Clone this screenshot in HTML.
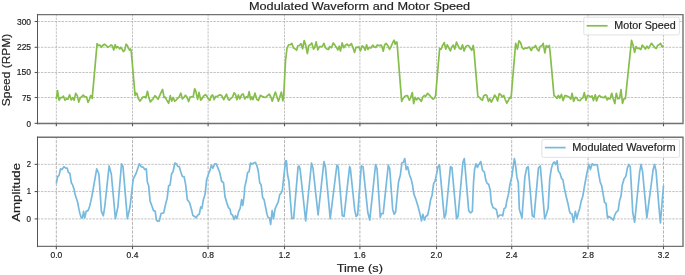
<!DOCTYPE html>
<html><head><meta charset="utf-8"><style>html,body{margin:0;padding:0;background:#fff;overflow:hidden}svg{display:block;will-change:transform}</style></head>
<body><svg width="685" height="275" viewBox="0 0 685 275"><rect width="685" height="275" fill="#fff"/><line x1="56.33" y1="123.5" x2="56.33" y2="14.65" stroke="#b4b4b4" stroke-width="0.8" stroke-dasharray="2.4,1.05"/><line x1="132.50" y1="123.5" x2="132.50" y2="14.65" stroke="#b4b4b4" stroke-width="0.8" stroke-dasharray="2.4,1.05"/><line x1="208.10" y1="123.5" x2="208.10" y2="14.65" stroke="#b4b4b4" stroke-width="0.8" stroke-dasharray="2.4,1.05"/><line x1="284.50" y1="123.5" x2="284.50" y2="14.65" stroke="#b4b4b4" stroke-width="0.8" stroke-dasharray="2.4,1.05"/><line x1="359.90" y1="123.5" x2="359.90" y2="14.65" stroke="#b4b4b4" stroke-width="0.8" stroke-dasharray="2.4,1.05"/><line x1="436.50" y1="123.5" x2="436.50" y2="14.65" stroke="#b4b4b4" stroke-width="0.8" stroke-dasharray="2.4,1.05"/><line x1="511.70" y1="123.5" x2="511.70" y2="14.65" stroke="#b4b4b4" stroke-width="0.8" stroke-dasharray="2.4,1.05"/><line x1="588.10" y1="123.5" x2="588.10" y2="14.65" stroke="#b4b4b4" stroke-width="0.8" stroke-dasharray="2.4,1.05"/><line x1="663.50" y1="123.5" x2="663.50" y2="14.65" stroke="#b4b4b4" stroke-width="0.8" stroke-dasharray="2.4,1.05"/><line x1="56.33" y1="246.4" x2="56.33" y2="137.3" stroke="#b4b4b4" stroke-width="1.0" stroke-dasharray="3.0,1.3"/><line x1="132.50" y1="246.4" x2="132.50" y2="137.3" stroke="#b4b4b4" stroke-width="1.0" stroke-dasharray="3.0,1.3"/><line x1="208.10" y1="246.4" x2="208.10" y2="137.3" stroke="#b4b4b4" stroke-width="1.0" stroke-dasharray="3.0,1.3"/><line x1="284.50" y1="246.4" x2="284.50" y2="137.3" stroke="#b4b4b4" stroke-width="1.0" stroke-dasharray="3.0,1.3"/><line x1="359.90" y1="246.4" x2="359.90" y2="137.3" stroke="#b4b4b4" stroke-width="1.0" stroke-dasharray="3.0,1.3"/><line x1="436.50" y1="246.4" x2="436.50" y2="137.3" stroke="#b4b4b4" stroke-width="1.0" stroke-dasharray="3.0,1.3"/><line x1="511.70" y1="246.4" x2="511.70" y2="137.3" stroke="#b4b4b4" stroke-width="1.0" stroke-dasharray="3.0,1.3"/><line x1="588.10" y1="246.4" x2="588.10" y2="137.3" stroke="#b4b4b4" stroke-width="1.0" stroke-dasharray="3.0,1.3"/><line x1="663.50" y1="246.4" x2="663.50" y2="137.3" stroke="#b4b4b4" stroke-width="1.0" stroke-dasharray="3.0,1.3"/><line x1="37.45" y1="123.35" x2="683.0" y2="123.35" stroke="#b4b4b4" stroke-width="0.8" stroke-dasharray="2.4,1.05"/><line x1="37.45" y1="97.50" x2="683.0" y2="97.50" stroke="#b4b4b4" stroke-width="0.8" stroke-dasharray="2.4,1.05"/><line x1="37.45" y1="72.50" x2="683.0" y2="72.50" stroke="#b4b4b4" stroke-width="0.8" stroke-dasharray="2.4,1.05"/><line x1="37.45" y1="47.30" x2="683.0" y2="47.30" stroke="#b4b4b4" stroke-width="0.8" stroke-dasharray="2.4,1.05"/><line x1="37.45" y1="21.50" x2="683.0" y2="21.50" stroke="#b4b4b4" stroke-width="0.8" stroke-dasharray="2.4,1.05"/><line x1="37.45" y1="218.90" x2="683.0" y2="218.90" stroke="#b4b4b4" stroke-width="0.8" stroke-dasharray="2.4,1.05"/><line x1="37.45" y1="191.55" x2="683.0" y2="191.55" stroke="#b4b4b4" stroke-width="0.8" stroke-dasharray="2.4,1.05"/><line x1="37.45" y1="164.35" x2="683.0" y2="164.35" stroke="#b4b4b4" stroke-width="0.8" stroke-dasharray="2.4,1.05"/><path d="M56.33,99.10 L57.50,90.70 L59.10,100.20 L60.60,97.70 L62.00,97.70 L63.50,96.20 L65.00,100.20 L66.40,98.80 L67.90,99.10 L69.60,94.80 L71.20,99.90 L72.60,97.70 L74.10,100.20 L75.70,93.30 L77.40,95.90 L78.80,102.10 L80.30,97.70 L81.80,96.60 L83.20,95.10 L85.00,96.90 L86.50,96.90 L88.00,102.40 L89.40,99.50 L90.70,95.50 L92.20,98.40 L97.08,43.69 L98.18,45.45 L99.12,45.15 L100.22,45.30 L101.53,47.34 L102.99,45.30 L104.45,44.20 L106.06,45.45 L107.88,47.34 L109.34,46.39 L111.17,44.93 L112.26,45.66 L113.72,50.04 L115.18,44.72 L116.28,47.85 L117.37,46.61 L118.61,47.49 L119.78,48.95 L120.66,47.34 L121.53,48.22 L123.43,51.50 L124.67,50.41 L126.13,44.20 L127.37,45.66 L128.69,48.95 L129.78,50.04 L130.51,48.95 L131.24,51.14 L135.07,95.31 L135.95,93.12 L136.90,93.49 L138.14,98.23 L139.96,101.15 L141.42,98.96 L142.88,97.14 L144.34,96.77 L145.80,97.87 L147.48,91.30 L148.72,97.14 L150.40,101.88 L151.64,100.42 L153.10,98.96 L154.93,95.68 L156.39,97.14 L157.99,99.33 L159.67,95.68 L161.13,92.39 L162.59,89.47 L164.05,97.50 L165.15,97.14 L166.46,99.60 L168.65,103.34 L170.26,95.68 L171.72,101.15 L173.18,97.50 L174.74,101.15 L176.20,100.06 L177.66,98.23 L179.12,97.14 L180.80,93.12 L182.41,98.96 L183.87,97.50 L185.47,95.31 L186.93,97.14 L188.61,101.52 L190.07,97.14 L191.53,96.77 L193.21,96.77 L194.67,88.74 L195.91,91.30 L197.59,99.33 L199.05,92.39 L200.66,100.06 L202.12,98.60 L203.58,96.04 L205.40,94.58 L206.86,96.04 L208.10,98.60 L209.78,100.42 L211.24,96.04 L212.70,94.95 L214.16,99.69 L215.62,96.41 L217.08,96.77 L218.54,95.31 L219.64,94.95 L221.57,95.31 L223.76,99.69 L225.22,96.41 L226.53,94.22 L227.77,98.60 L229.23,100.06 L230.69,98.60 L232.52,97.14 L234.12,92.76 L235.44,94.22 L236.90,99.69 L238.36,94.95 L239.82,98.96 L241.42,94.95 L243.10,93.85 L244.78,98.96 L246.24,96.77 L247.70,97.50 L249.16,91.66 L250.62,99.69 L251.86,96.77 L252.96,99.69 L255.00,93.12 L256.75,99.33 L258.43,100.42 L260.40,95.31 L262.08,96.41 L263.91,97.14 L265.66,97.50 L267.49,95.68 L269.31,94.22 L270.77,96.77 L272.23,101.15 L273.69,96.77 L275.37,92.03 L276.83,96.41 L278.44,101.15 L279.90,96.77 L281.36,92.12 L282.82,100.79 L283.55,98.60 L285.50,61.00 L286.93,48.77 L288.61,44.76 L290.22,44.76 L291.82,43.30 L293.50,48.04 L294.96,48.77 L296.64,50.23 L297.88,45.85 L299.34,45.49 L301.02,43.66 L302.63,48.77 L304.23,40.53 L305.69,45.12 L307.37,53.52 L308.83,45.49 L310.29,44.76 L311.75,42.93 L313.58,49.14 L314.89,46.95 L316.13,41.84 L317.81,49.87 L319.42,46.58 L321.24,46.58 L322.48,46.22 L323.94,43.30 L325.40,47.68 L327.08,49.14 L328.54,49.50 L329.64,46.58 L331.42,47.68 L333.18,42.93 L334.85,45.12 L336.68,47.68 L337.77,49.87 L339.23,46.22 L340.47,50.96 L342.15,42.93 L343.83,47.68 L345.29,45.49 L346.90,44.03 L348.72,45.85 L350.18,45.12 L351.42,43.66 L353.10,48.04 L354.56,52.42 L356.02,47.31 L357.48,47.31 L358.94,46.95 L360.40,50.96 L362.23,45.85 L363.69,46.95 L365.15,50.23 L366.61,44.76 L367.92,49.50 L369.38,47.31 L370.99,48.04 L372.81,45.12 L374.27,46.95 L375.69,47.50 L377.30,44.95 L379.12,45.68 L380.95,44.95 L382.04,46.77 L383.28,51.15 L384.60,44.95 L386.20,43.49 L387.88,45.68 L389.56,49.33 L391.17,46.41 L392.63,42.76 L394.09,40.20 L395.18,44.22 L395.91,42.03 L397.01,42.39 L401.68,101.33 L403.14,98.41 L404.60,96.58 L406.06,95.85 L407.52,95.49 L409.34,100.23 L410.80,97.31 L412.26,92.57 L413.72,103.52 L415.18,97.31 L416.64,99.87 L418.10,98.04 L419.56,99.14 L421.39,101.33 L422.85,96.95 L424.31,95.49 L425.77,96.22 L427.59,93.30 L429.42,95.12 L431.24,97.31 L433.07,99.14 L434.53,97.97 L435.62,95.49 L439.66,48.41 L441.12,49.14 L442.58,45.49 L444.26,42.57 L445.72,49.14 L447.33,44.76 L448.64,47.68 L450.39,50.96 L451.71,46.95 L453.31,45.12 L454.77,49.14 L456.45,42.20 L457.91,45.49 L459.37,48.41 L461.05,49.14 L462.51,44.76 L464.12,50.96 L465.58,46.95 L467.04,45.49 L468.50,45.49 L469.96,47.68 L471.78,50.23 L473.24,45.49 L473.97,50.60 L477.85,96.22 L479.31,97.31 L480.77,99.14 L482.45,100.23 L483.69,95.85 L485.37,94.76 L486.83,95.49 L488.44,101.33 L489.75,98.77 L491.36,102.06 L492.96,98.77 L494.64,95.12 L496.10,96.95 L497.56,100.96 L499.24,93.66 L500.85,94.76 L502.31,97.04 L503.77,95.49 L505.23,99.50 L506.83,103.15 L508.51,100.23 L509.97,97.31 L511.06,98.04 L515.66,43.30 L517.34,49.14 L518.95,40.74 L520.55,42.57 L522.01,47.31 L523.69,49.14 L525.52,48.04 L527.34,48.04 L529.31,46.95 L531.21,50.60 L532.82,47.31 L534.13,47.53 L535.59,45.49 L537.20,49.14 L538.80,50.96 L540.12,46.58 L541.72,45.85 L543.18,43.30 L544.86,52.79 L546.32,45.49 L547.78,47.31 L549.24,45.49 L549.97,50.60 L554.03,95.85 L555.49,96.58 L556.95,98.41 L558.41,95.49 L559.87,98.04 L561.47,94.39 L563.15,100.60 L564.83,95.49 L566.44,95.85 L567.90,96.58 L569.36,97.31 L570.82,99.14 L572.13,93.30 L573.59,101.33 L575.20,97.31 L576.66,97.68 L578.12,100.23 L579.94,100.60 L581.40,98.77 L582.86,98.04 L584.32,92.57 L586.00,100.23 L587.46,95.49 L589.07,95.85 L590.53,96.95 L591.99,95.85 L593.45,100.60 L595.27,94.76 L596.57,100.96 L598.03,96.95 L599.49,95.49 L600.95,96.95 L602.55,97.31 L604.01,97.68 L605.47,96.22 L607.15,99.87 L608.61,98.41 L610.07,98.77 L611.75,93.30 L613.21,98.77 L614.82,103.52 L616.28,93.30 L617.88,98.77 L619.56,98.41 L621.02,89.65 L622.48,103.52 L623.94,98.77 L625.40,98.77 L631.53,40.38 L633.14,45.49 L634.60,52.42 L636.06,46.58 L637.52,48.41 L639.12,48.41 L640.80,49.50 L642.26,45.12 L643.94,46.95 L645.40,49.14 L647.01,46.22 L648.61,48.41 L649.93,45.85 L651.53,43.30 L653.21,45.49 L654.89,47.68 L656.35,48.41 L657.59,45.49 L659.05,44.76 L660.51,43.30 L662.19,46.95 L663.50,45.49" fill="none" stroke="#86be4c" stroke-width="1.7" stroke-linejoin="round" stroke-linecap="butt"/><path d="M56.33,183.50 L57.59,176.90 L59.05,175.44 L60.51,168.87 L61.97,169.60 L63.87,166.68 L65.77,168.14 L67.23,168.14 L68.39,172.52 L69.85,173.25 L71.31,182.74 L72.63,184.93 L74.09,189.31 L75.11,194.57 L76.57,198.95 L77.74,202.60 L78.91,209.17 L79.93,213.55 L81.39,217.93 L82.41,217.93 L83.58,211.36 L84.74,217.93 L86.20,211.36 L87.96,210.63 L89.42,206.98 L90.88,201.14 L92.34,193.84 L96.72,168.87 L98.91,173.98 L101.39,211.36 L103.28,215.74 L104.74,206.98 L109.12,165.95 L111.31,173.98 L115.40,218.66 L117.88,206.98 L121.53,163.76 L123.00,166.68 L127.37,218.66 L130.00,206.98 L133.21,179.09 L136.13,173.25 L139.34,163.76 L141.24,166.68 L143.43,167.41 L144.89,169.60 L146.30,168.87 L147.35,182.00 L148.65,185.66 L150.11,201.14 L152.01,206.25 L153.47,210.63 L155.22,211.07 L156.39,220.12 L157.85,221.28 L159.31,220.85 L161.06,213.55 L163.69,212.82 L165.44,204.79 L167.19,198.22 L168.65,185.66 L170.11,184.93 L171.57,173.98 L173.03,171.79 L174.93,163.03 L176.39,163.76 L177.85,166.39 L179.31,166.68 L180.77,171.79 L182.23,176.17 L184.12,176.90 L185.58,184.20 L187.34,199.68 L189.53,202.60 L191.42,209.17 L192.88,215.45 L194.64,216.47 L196.09,217.93 L197.85,215.01 L199.31,214.28 L200.77,206.98 L201.93,208.44 L203.39,199.68 L205.15,193.84 L206.61,179.82 L208.50,173.98 L209.96,170.33 L211.42,165.22 L212.88,168.14 L214.78,163.76 L216.24,163.76 L217.99,168.14 L219.74,172.52 L221.64,181.28 L223.54,182.74 L225.00,196.76 L226.75,202.60 L228.50,207.71 L229.96,209.17 L231.13,214.28 L232.59,215.01 L234.05,219.39 L235.51,215.74 L236.97,218.66 L238.72,211.36 L240.18,208.44 L241.64,199.68 L242.81,205.50 L244.27,194.50 L244.67,187.12 L246.13,181.28 L247.59,172.52 L249.05,171.79 L250.51,163.03 L251.97,164.05 L253.87,163.03 L255.33,162.30 L256.79,165.22 L258.25,171.06 L259.71,182.74 L261.17,184.93 L262.63,197.49 L264.09,199.68 L265.55,206.98 L267.01,214.28 L268.03,217.20 L269.49,217.93 L270.66,224.50 L272.12,210.63 L273.58,218.66 L275.04,209.17 L276.50,205.52 L278.25,201.87 L279.71,194.57 L281.17,193.11 L282.34,190.04 L283.80,176.90 L285.55,160.84 L286.42,160.84 L287.45,173.98 L288.91,181.28 L291.82,218.66 L293.72,217.93 L298.10,166.68 L299.12,165.95 L300.15,169.60 L305.69,220.85 L311.53,163.03 L313.00,168.14 L318.10,215.01 L323.94,161.57 L325.40,166.68 L330.22,218.66 L336.90,165.00 L338.21,166.68 L342.30,215.74 L344.05,216.47 L349.60,166.68 L350.33,168.14 L354.71,209.90 L356.17,216.47 L357.63,215.01 L361.28,165.95 L363.03,166.68 L367.85,212.82 L369.74,220.12 L375.58,164.49 L377.04,168.87 L380.26,217.20 L381.42,213.55 L383.18,213.55 L388.28,165.22 L389.74,168.87 L392.66,209.17 L394.12,214.28 L395.58,212.09 L398.50,182.01 L400.40,174.71 L401.86,163.03 L403.32,162.30 L404.78,158.65 L406.24,169.60 L407.70,166.68 L409.45,174.71 L410.91,178.36 L412.37,184.20 L413.83,193.84 L416.02,199.68 L418.21,206.98 L420.40,215.74 L421.42,220.85 L422.88,214.28 L424.34,220.12 L425.80,216.47 L427.70,215.01 L429.16,208.44 L430.62,199.68 L432.08,195.30 L433.65,183.47 L435.11,181.28 L436.57,173.98 L438.03,166.68 L439.49,164.93 L444.31,217.93 L445.77,214.28 L450.44,166.68 L451.90,167.41 L456.57,218.66 L458.03,216.47 L462.85,162.30 L464.31,158.65 L465.77,175.44 L468.69,210.63 L470.58,212.82 L472.34,211.36 L473.50,182.74 L474.53,169.60 L475.99,163.76 L477.45,167.41 L478.91,164.49 L480.80,161.57 L482.55,170.33 L484.31,171.79 L485.77,179.82 L487.23,183.47 L488.69,184.20 L490.15,190.04 L491.31,202.60 L493.07,207.71 L494.96,208.44 L496.42,209.90 L497.88,217.20 L499.78,215.01 L501.53,215.01 L502.70,215.74 L504.16,208.44 L505.62,207.71 L507.08,199.68 L508.54,193.84 L510.00,184.20 L511.75,176.90 L514.38,158.65 L515.40,163.76 L516.86,176.90 L518.32,182.74 L519.34,209.17 L521.97,217.93 L524.89,176.90 L526.70,167.80 L528.21,166.68 L532.30,215.74 L534.05,217.20 L538.43,168.14 L540.33,165.95 L544.71,218.66 L546.17,215.01 L548.07,208.44 L549.82,178.36 L551.28,168.87 L552.74,163.76 L554.20,162.01 L555.66,164.49 L557.12,160.84 L558.28,171.06 L560.04,173.25 L561.50,178.36 L562.96,179.82 L564.42,188.58 L566.61,198.22 L568.07,204.06 L569.53,211.36 L570.55,213.55 L572.01,213.99 L573.47,222.31 L575.36,211.36 L576.82,218.66 L578.28,212.82 L579.74,208.44 L581.20,201.14 L582.66,196.76 L584.85,184.20 L587.04,172.52 L588.94,164.49 L590.40,169.60 L592.15,163.76 L593.91,165.22 L595.80,164.49 L597.26,165.22 L598.72,173.98 L600.18,182.01 L601.64,185.66 L603.10,193.84 L604.56,202.60 L606.02,203.33 L607.48,217.93 L608.94,216.47 L611.13,217.93 L613.32,220.12 L614.78,215.01 L616.24,212.09 L618.14,210.63 L619.60,200.41 L621.06,196.03 L622.13,185.57 L624.02,179.02 L625.91,176.11 L627.37,168.10 L628.82,164.46 L630.28,166.64 L632.75,212.75 L634.64,222.21 L639.59,172.47 L641.05,164.46 L642.50,171.01 L646.87,217.84 L653.13,169.56 L654.59,164.46 L656.04,171.01 L658.95,206.92 L660.41,222.93 L663.50,185.60" fill="none" stroke="#78bade" stroke-width="1.7" stroke-linejoin="round" stroke-linecap="butt"/><path d="M36.95,14.65 H683.0 V123.5 H36.95" stroke="#727272" stroke-width="1.4" fill="none"/><line x1="37.5" y1="13.950000000000001" x2="37.5" y2="124.2" stroke="#555" stroke-width="1.05"/><path d="M36.95,137.3 H683.0 V246.4 H36.95" stroke="#727272" stroke-width="1.4" fill="none"/><line x1="37.5" y1="136.60000000000002" x2="37.5" y2="247.1" stroke="#555" stroke-width="1.05"/><line x1="34.650000000000006" y1="123.35" x2="37.45" y2="123.35" stroke="#555" stroke-width="1.1"/><line x1="34.650000000000006" y1="97.50" x2="37.45" y2="97.50" stroke="#555" stroke-width="1.1"/><line x1="34.650000000000006" y1="72.50" x2="37.45" y2="72.50" stroke="#555" stroke-width="1.1"/><line x1="34.650000000000006" y1="47.30" x2="37.45" y2="47.30" stroke="#555" stroke-width="1.1"/><line x1="34.650000000000006" y1="21.50" x2="37.45" y2="21.50" stroke="#555" stroke-width="1.1"/><line x1="34.650000000000006" y1="218.90" x2="37.45" y2="218.90" stroke="#555" stroke-width="1.1"/><line x1="34.650000000000006" y1="191.55" x2="37.45" y2="191.55" stroke="#555" stroke-width="1.1"/><line x1="34.650000000000006" y1="164.35" x2="37.45" y2="164.35" stroke="#555" stroke-width="1.1"/><line x1="56.33" y1="123.5" x2="56.33" y2="126.3" stroke="#555" stroke-width="1.1"/><line x1="56.33" y1="246.4" x2="56.33" y2="249.20000000000002" stroke="#555" stroke-width="1.1"/><line x1="132.50" y1="123.5" x2="132.50" y2="126.3" stroke="#555" stroke-width="1.1"/><line x1="132.50" y1="246.4" x2="132.50" y2="249.20000000000002" stroke="#555" stroke-width="1.1"/><line x1="208.10" y1="123.5" x2="208.10" y2="126.3" stroke="#555" stroke-width="1.1"/><line x1="208.10" y1="246.4" x2="208.10" y2="249.20000000000002" stroke="#555" stroke-width="1.1"/><line x1="284.50" y1="123.5" x2="284.50" y2="126.3" stroke="#555" stroke-width="1.1"/><line x1="284.50" y1="246.4" x2="284.50" y2="249.20000000000002" stroke="#555" stroke-width="1.1"/><line x1="359.90" y1="123.5" x2="359.90" y2="126.3" stroke="#555" stroke-width="1.1"/><line x1="359.90" y1="246.4" x2="359.90" y2="249.20000000000002" stroke="#555" stroke-width="1.1"/><line x1="436.50" y1="123.5" x2="436.50" y2="126.3" stroke="#555" stroke-width="1.1"/><line x1="436.50" y1="246.4" x2="436.50" y2="249.20000000000002" stroke="#555" stroke-width="1.1"/><line x1="511.70" y1="123.5" x2="511.70" y2="126.3" stroke="#555" stroke-width="1.1"/><line x1="511.70" y1="246.4" x2="511.70" y2="249.20000000000002" stroke="#555" stroke-width="1.1"/><line x1="588.10" y1="123.5" x2="588.10" y2="126.3" stroke="#555" stroke-width="1.1"/><line x1="588.10" y1="246.4" x2="588.10" y2="249.20000000000002" stroke="#555" stroke-width="1.1"/><line x1="663.50" y1="123.5" x2="663.50" y2="126.3" stroke="#555" stroke-width="1.1"/><line x1="663.50" y1="246.4" x2="663.50" y2="249.20000000000002" stroke="#555" stroke-width="1.1"/><text x="26.54" y="126.60" font-size="8.30" textLength="4.49" lengthAdjust="spacingAndGlyphs" font-family="Liberation Sans, sans-serif" fill="#222" stroke="#222" stroke-width="0.18" >0</text><text x="21.89" y="100.80" font-size="8.30" textLength="9.16" lengthAdjust="spacingAndGlyphs" font-family="Liberation Sans, sans-serif" fill="#222" stroke="#222" stroke-width="0.18" >75</text><text x="16.88" y="75.30" font-size="8.30" textLength="14.19" lengthAdjust="spacingAndGlyphs" font-family="Liberation Sans, sans-serif" fill="#222" stroke="#222" stroke-width="0.18" >150</text><text x="16.98" y="49.80" font-size="8.30" textLength="14.09" lengthAdjust="spacingAndGlyphs" font-family="Liberation Sans, sans-serif" fill="#222" stroke="#222" stroke-width="0.18" >225</text><text x="16.91" y="24.70" font-size="8.30" textLength="14.16" lengthAdjust="spacingAndGlyphs" font-family="Liberation Sans, sans-serif" fill="#222" stroke="#222" stroke-width="0.18" >300</text><text x="26.54" y="221.70" font-size="8.30" textLength="4.49" lengthAdjust="spacingAndGlyphs" font-family="Liberation Sans, sans-serif" fill="#222" stroke="#222" stroke-width="0.18" >0</text><text x="26.82" y="194.10" font-size="8.30" textLength="4.28" lengthAdjust="spacingAndGlyphs" font-family="Liberation Sans, sans-serif" fill="#222" stroke="#222" stroke-width="0.18" >1</text><text x="26.82" y="166.90" font-size="8.30" textLength="4.27" lengthAdjust="spacingAndGlyphs" font-family="Liberation Sans, sans-serif" fill="#222" stroke="#222" stroke-width="0.18" >2</text><text x="50.44" y="257.90" font-size="8.30" textLength="11.78" lengthAdjust="spacingAndGlyphs" font-family="Liberation Sans, sans-serif" fill="#222" stroke="#222" stroke-width="0.18" >0.0</text><text x="126.58" y="257.90" font-size="8.30" textLength="11.77" lengthAdjust="spacingAndGlyphs" font-family="Liberation Sans, sans-serif" fill="#222" stroke="#222" stroke-width="0.18" >0.4</text><text x="202.21" y="257.90" font-size="8.30" textLength="11.78" lengthAdjust="spacingAndGlyphs" font-family="Liberation Sans, sans-serif" fill="#222" stroke="#222" stroke-width="0.18" >0.8</text><text x="278.63" y="257.90" font-size="8.30" textLength="11.53" lengthAdjust="spacingAndGlyphs" font-family="Liberation Sans, sans-serif" fill="#222" stroke="#222" stroke-width="0.18" >1.2</text><text x="353.87" y="257.90" font-size="8.30" textLength="11.81" lengthAdjust="spacingAndGlyphs" font-family="Liberation Sans, sans-serif" fill="#222" stroke="#222" stroke-width="0.18" >1.6</text><text x="430.57" y="257.90" font-size="8.30" textLength="11.78" lengthAdjust="spacingAndGlyphs" font-family="Liberation Sans, sans-serif" fill="#222" stroke="#222" stroke-width="0.18" >2.0</text><text x="505.73" y="257.90" font-size="8.30" textLength="11.78" lengthAdjust="spacingAndGlyphs" font-family="Liberation Sans, sans-serif" fill="#222" stroke="#222" stroke-width="0.18" >2.4</text><text x="582.17" y="257.90" font-size="8.30" textLength="11.78" lengthAdjust="spacingAndGlyphs" font-family="Liberation Sans, sans-serif" fill="#222" stroke="#222" stroke-width="0.18" >2.8</text><text x="657.79" y="257.90" font-size="8.30" textLength="11.50" lengthAdjust="spacingAndGlyphs" font-family="Liberation Sans, sans-serif" fill="#222" stroke="#222" stroke-width="0.18" >3.2</text><text x="248.98" y="9.70" font-size="11.50" textLength="221.17" lengthAdjust="spacingAndGlyphs" font-family="Liberation Sans, sans-serif" fill="#222" stroke="#222" stroke-width="0.18" >Modulated Waveform and Motor Speed</text><text x="336.68" y="271.70" font-size="11.40" textLength="46.24" lengthAdjust="spacingAndGlyphs" font-family="Liberation Sans, sans-serif" fill="#222" stroke="#222" stroke-width="0.18" >Time (s)</text><text transform="translate(10.20,106.24) rotate(-90)" x="0" y="0" font-size="11.40" textLength="72.44" lengthAdjust="spacingAndGlyphs" font-family="Liberation Sans, sans-serif" fill="#222" stroke="#222" stroke-width="0.18">Speed (RPM)</text><text transform="translate(20.30,221.77) rotate(-90)" x="0" y="0" font-size="11.40" textLength="58.79" lengthAdjust="spacingAndGlyphs" font-family="Liberation Sans, sans-serif" fill="#222" stroke="#222" stroke-width="0.18">Amplitude</text><rect x="583.8" y="17.2" width="95.6" height="17.7" rx="1.6" fill="#fff" fill-opacity="0.8" stroke="#d6d6d6" stroke-width="0.7"/><line x1="586.6" y1="25.8" x2="607.6" y2="25.8" stroke="#86be4c" stroke-width="1.7"/><text x="614.34" y="28.60" font-size="10.30" textLength="61.36" lengthAdjust="spacingAndGlyphs" font-family="Liberation Sans, sans-serif" fill="#222" stroke="#222" stroke-width="0.18" >Motor Speed</text><rect x="541.8" y="139.4" width="137.7" height="18" rx="1.6" fill="#fff" fill-opacity="0.8" stroke="#d6d6d6" stroke-width="0.7"/><line x1="544.9" y1="147.6" x2="565.7" y2="147.6" stroke="#78bade" stroke-width="1.7"/><text x="572.23" y="150.90" font-size="10.30" textLength="103.30" lengthAdjust="spacingAndGlyphs" font-family="Liberation Sans, sans-serif" fill="#222" stroke="#222" stroke-width="0.18" >Modulated Waveform</text></svg></body></html>
